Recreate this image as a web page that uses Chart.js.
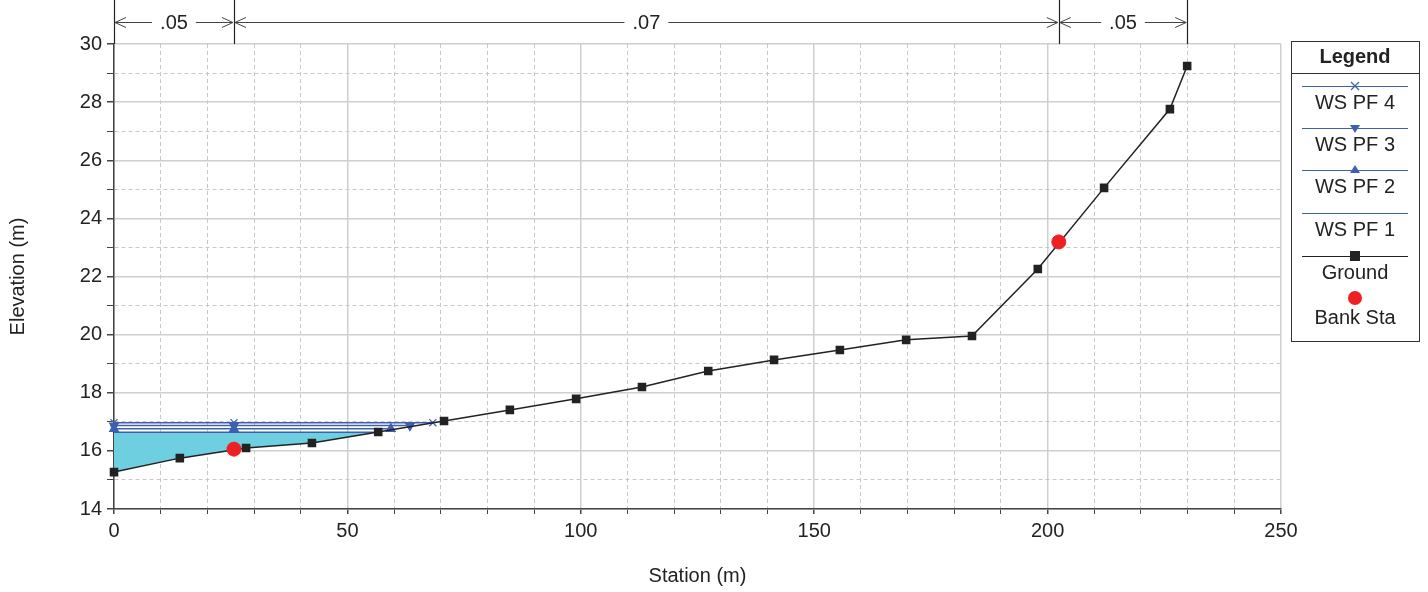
<!DOCTYPE html>
<html>
<head>
<meta charset="utf-8">
<script src="https://cdn.jsdelivr.net/npm/chart.js@4/dist/chart.umd.min.js"></script>
<style>
  html, body { margin: 0; padding: 0; background: #fff; }
  #wrap { width: 1428px; height: 592px; }
</style>
</head>
<body>
<div id="wrap"><canvas id="xsChart"></canvas></div>
<script>
// ground profile
const groundSta = [0, 14.1, 28.3, 42.4, 56.6, 70.7, 84.8, 99.0, 113.1, 127.3, 141.4, 155.5, 169.7, 183.8, 197.9, 212.1, 226.2, 229.9];
const groundElev = [15.27, 15.75, 16.10, 16.27, 16.65, 17.03, 17.41, 17.79, 18.20, 18.75, 19.13, 19.47, 19.82, 19.95, 22.26, 25.05, 27.76, 29.24];

// bank stations
const bankSta = [25.7, 202.4];
const bankElev = [16.06, 23.19];

// water surfaces (elevation, right edge station)
const wsNames = ["WS PF 4", "WS PF 3", "WS PF 2", "WS PF 1"];
const wsElev = [16.97, 16.87, 16.76, 16.64];
const wsEnd = [68.3, 63.4, 59.3, 56.4];

// manning n values between break stations
const nValues = [".05", ".07", ".05"];

const blue = "#3f5fb0";
const font = "'Liberation Sans', Arial, sans-serif";
const fs = 20;

function wsPoints(i) {
  return [{x: 0, y: wsElev[i]}, {x: bankSta[0], y: wsElev[i]}, {x: wsEnd[i], y: wsElev[i]}];
}

// polygon between WS PF 1 and the ground
const pf1 = 3;
const waterPoly = [{x: 0, y: wsElev[pf1]}, {x: wsEnd[pf1], y: wsElev[pf1]}];
for (let i = groundSta.length - 1; i >= 0; i--) {
  if (groundSta[i] < wsEnd[pf1]) waterPoly.push({x: groundSta[i], y: groundElev[i]});
}

const wsStyles = [
  {pointStyle: "crossRot", rotation: 0, radius: 5},
  {pointStyle: "triangle", rotation: 180, radius: 5},
  {pointStyle: "triangle", rotation: 0, radius: 5},
  {pointStyle: false, rotation: 0, radius: 0}
];

const datasets = [];
datasets.push({
  label: "Bank Sta",
  data: bankSta.map((s, i) => ({x: s, y: bankElev[i]})),
  showLine: false,
  pointStyle: "circle",
  pointRadius: 7,
  pointBackgroundColor: "#ee2024",
  pointBorderColor: "#ee2024",
  clip: false,
  order: 0
});
datasets.push({
  label: "Ground",
  data: groundSta.map((s, i) => ({x: s, y: groundElev[i]})),
  borderColor: "#222",
  borderWidth: 1.5,
  pointStyle: "rect",
  pointRadius: 5,
  pointBackgroundColor: "#222",
  pointBorderColor: "#222",
  clip: false,
  order: 1
});
wsNames.forEach((name, i) => {
  datasets.push({
    label: name,
    data: wsPoints(i),
    borderColor: blue,
    borderWidth: 1.5,
    pointStyle: wsStyles[i].pointStyle,
    rotation: wsStyles[i].rotation,
    pointRadius: wsStyles[i].radius,
    pointBackgroundColor: blue,
    pointBorderColor: blue,
    pointBorderWidth: 1.2,
    clip: false,
    order: 2 + i
  });
});
datasets.push({
  label: "water",
  data: waterPoly,
  borderWidth: 0,
  pointRadius: 0,
  backgroundColor: "#6dcfdf",
  fill: "shape",
  order: 10
});

function arrowHead(ctx, x, y, dir) {
  ctx.beginPath();
  ctx.moveTo(x + dir * 11, y - 5);
  ctx.lineTo(x, y);
  ctx.lineTo(x + dir * 11, y + 5);
  ctx.stroke();
}

const extrasPlugin = {
  id: "extras",
  afterDraw(chart) {
    const ctx = chart.ctx;
    const xs = chart.scales.x;
    const top = chart.chartArea.top;
    ctx.save();

    // n-value bar along the top
    const breaks = [groundSta[0], bankSta[0], bankSta[1], groundSta[groundSta.length - 1]];
    const px = breaks.map(b => xs.getPixelForValue(b));
    const yLine = 22;
    ctx.strokeStyle = "#222";
    ctx.lineWidth = 1.2;
    px.forEach(p => {
      ctx.beginPath();
      ctx.moveTo(Math.round(p) + 0.5, 0);
      ctx.lineTo(Math.round(p) + 0.5, top);
      ctx.stroke();
    });
    ctx.font = fs + "px " + font;
    ctx.textAlign = "center";
    ctx.textBaseline = "middle";
    ctx.fillStyle = "#222";
    for (let i = 0; i < nValues.length; i++) {
      const a = px[i], b = px[i + 1];
      const mid = (a + b) / 2;
      const w = ctx.measureText(nValues[i]).width / 2 + 8;
      ctx.strokeStyle = "#444";
      ctx.lineWidth = 1;
      ctx.beginPath();
      ctx.moveTo(a + 1, yLine + 0.5);
      ctx.lineTo(mid - w, yLine + 0.5);
      ctx.moveTo(mid + w, yLine + 0.5);
      ctx.lineTo(b - 1, yLine + 0.5);
      ctx.stroke();
      arrowHead(ctx, a + 1, yLine + 0.5, 1);
      arrowHead(ctx, b - 1, yLine + 0.5, -1);
      ctx.fillText(nValues[i], mid, yLine + 1);
    }

    // legend box
    const lx = 1291, ly = 41, lw = 128, lh = 300;
    ctx.strokeStyle = "#333";
    ctx.lineWidth = 1;
    ctx.strokeRect(lx + 0.5, ly + 0.5, lw, lh);
    ctx.beginPath();
    ctx.moveTo(lx, 73.5);
    ctx.lineTo(lx + lw, 73.5);
    ctx.stroke();
    ctx.font = "bold " + fs + "px " + font;
    ctx.fillText("Legend", lx + lw / 2, 57);

    const cx = lx + lw / 2;
    const entries = [
      {name: wsNames[0], color: blue, marker: 0, lineY: 86},
      {name: wsNames[1], color: blue, marker: 1, lineY: 128},
      {name: wsNames[2], color: blue, marker: 2, lineY: 170},
      {name: wsNames[3], color: blue, marker: 3, lineY: 213},
      {name: "Ground", color: "#222", marker: "rect", lineY: 256},
      {name: "Bank Sta", color: "#ee2024", marker: "circle", lineY: 298}
    ];
    ctx.font = fs + "px " + font;
    entries.forEach(e => {
      ctx.strokeStyle = e.color;
      ctx.fillStyle = e.color;
      ctx.lineWidth = 1.2;
      if (e.marker !== "circle") {
        ctx.beginPath();
        ctx.moveTo(lx + 11, e.lineY + 0.5);
        ctx.lineTo(lx + lw - 11, e.lineY + 0.5);
        ctx.stroke();
      }
      const y = e.lineY;
      if (e.marker === 0) {
        ctx.beginPath();
        ctx.moveTo(cx - 4, y - 4); ctx.lineTo(cx + 4, y + 4);
        ctx.moveTo(cx + 4, y - 4); ctx.lineTo(cx - 4, y + 4);
        ctx.stroke();
      } else if (e.marker === 1) {
        ctx.beginPath();
        ctx.moveTo(cx - 5, y - 3); ctx.lineTo(cx + 5, y - 3); ctx.lineTo(cx, y + 5);
        ctx.closePath(); ctx.fill();
      } else if (e.marker === 2) {
        ctx.beginPath();
        ctx.moveTo(cx - 5, y + 3); ctx.lineTo(cx + 5, y + 3); ctx.lineTo(cx, y - 5);
        ctx.closePath(); ctx.fill();
      } else if (e.marker === "rect") {
        ctx.fillRect(cx - 5, y - 5, 10, 10);
      } else if (e.marker === "circle") {
        ctx.beginPath();
        ctx.arc(cx, y, 7, 0, Math.PI * 2);
        ctx.fill();
      }
      ctx.fillStyle = "#222";
      ctx.fillText(e.name, cx, y + (e.marker === "circle" ? 20 : 17));
    });
    ctx.restore();
  }
};

new Chart(document.getElementById("xsChart"), {
  type: "scatter",
  data: {datasets: datasets},
  options: {
    responsive: true,
    maintainAspectRatio: false,
    animation: false,
    showLine: true,
    layout: {padding: {left: 0, top: 44, right: 147, bottom: 0}},
    plugins: {
      legend: {display: false},
      tooltip: {enabled: false}
    },
    elements: {line: {tension: 0}},
    scales: {
      x: {
        type: "linear",
        min: 0,
        max: 250,
        afterFit: s => { s.height = 83; },
        ticks: {
          stepSize: 10,
          autoSkip: false,
          maxRotation: 0,
          padding: 5,
          color: "#222",
          font: {family: font, size: fs},
          callback: v => (v % 50 === 0 ? v : "")
        },
        grid: {
          color: ctx => (ctx.tick && ctx.tick.value % 50 !== 0 ? "#c8c8c8" : "#cfcfcf"),
          lineWidth: ctx => (ctx.tick && ctx.tick.value % 50 !== 0 ? 1 : 1.5),
          tickLength: 5,
          tickColor: "#444"
        },
        border: {
          color: "#444",
          width: 1.5,
          dash: ctx => (ctx.tick && ctx.tick.value % 50 !== 0 ? [4, 3] : [])
        },
        title: {
          display: true,
          text: "Station (m)",
          color: "#222",
          font: {family: font, size: fs},
          padding: {top: 4, bottom: 4}
        }
      },
      y: {
        type: "linear",
        min: 14,
        max: 30,
        afterFit: s => { s.width = 114; },
        ticks: {
          stepSize: 1,
          autoSkip: false,
          padding: 5,
          color: "#222",
          font: {family: font, size: fs},
          callback: v => (v % 2 === 0 ? v : "")
        },
        grid: {
          color: ctx => (ctx.tick && ctx.tick.value % 2 !== 0 ? "#c8c8c8" : "#cfcfcf"),
          lineWidth: ctx => (ctx.tick && ctx.tick.value % 2 !== 0 ? 1 : 1.5),
          tickLength: 7,
          tickColor: "#444"
        },
        border: {
          color: "#444",
          width: 1.5,
          dash: ctx => (ctx.tick && ctx.tick.value % 2 !== 0 ? [4, 3] : [])
        },
        title: {
          display: true,
          text: "Elevation (m)",
          color: "#222",
          font: {family: font, size: fs},
          padding: {top: 6, bottom: 4}
        }
      }
    }
  },
  plugins: [extrasPlugin]
});
</script>
</body>
</html>
